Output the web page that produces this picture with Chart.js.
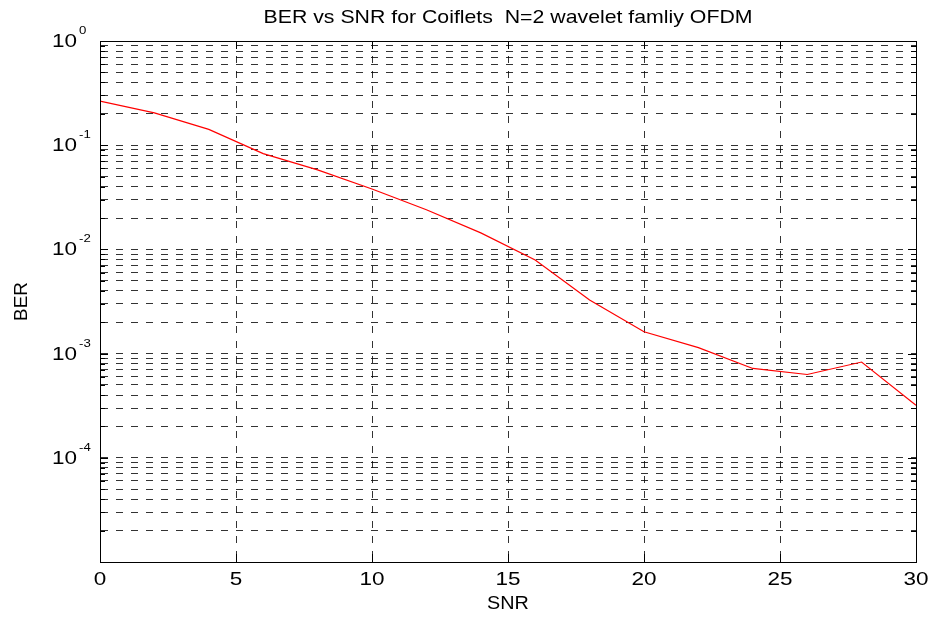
<!DOCTYPE html>
<html>
<head>
<meta charset="utf-8">
<script src="https://cdn.jsdelivr.net/npm/chart.js@4.4.1/dist/chart.umd.min.js"></script>
<style>
  html, body { margin: 0; padding: 0; background: #fff; }
</style>
</head>
<body>
<canvas id="chart" width="933" height="618"></canvas>
<script>
// values
const snr = [0, 2, 4, 6, 8, 10, 12, 14, 16, 18, 20, 22, 24, 26, 28, 30];
const ber = [0.265, 0.204, 0.142, 0.083, 0.058, 0.038, 0.024, 0.0144, 0.0079, 0.00327,
             0.00162, 0.00114, 0.00072, 0.00063, 0.00083, 0.00032];
const xTicks = [0, 5, 10, 15, 20, 25, 30];
const yDecades = [1e0, 1e-1, 1e-2, 1e-3, 1e-4];
const yExponents = ['0', '-1', '-2', '-3', '-4'];
const chartTitle = 'BER vs SNR for Coiflets  N=2 wavelet famliy OFDM';
const xTitle = 'SNR';
const yTitle = 'BER';

const FONT = '"Liberation Sans", Arial, Helvetica, sans-serif';

function stretchedText(ctx, text, x, y, size, align, sx) {
  ctx.save();
  ctx.translate(x, y);
  ctx.scale(sx, 1);
  ctx.font = size + 'px ' + FONT;
  ctx.fillStyle = '#000';
  ctx.textAlign = align;
  ctx.textBaseline = 'alphabetic';
  ctx.fillText(text, 0, 0);
  ctx.restore();
}

// box, inward ticks and all text (matlab style)
const matlabFrame = {
  id: 'matlabFrame',
  afterDraw(chart) {
    const ctx = chart.ctx;
    const area = chart.chartArea;
    const xs = chart.scales.x;
    const ys = chart.scales.y;

    ctx.save();
    ctx.strokeStyle = '#000';
    ctx.lineWidth = 1;
    ctx.beginPath();
    xs.ticks.forEach(t => {
      const px = Math.round(xs.getPixelForValue(t.value)) + 0.5;
      ctx.moveTo(px, area.bottom); ctx.lineTo(px, area.bottom - 8);
      ctx.moveTo(px, area.top); ctx.lineTo(px, area.top + 8);
    });
    ys.ticks.forEach(t => {
      const py = Math.round(ys.getPixelForValue(t.value)) + 0.5;
      const major = yDecades.some(d => Math.abs(Math.log10(d) - Math.log10(t.value)) < 1e-9);
      const len = major ? 8 : 5;
      ctx.moveTo(area.left, py); ctx.lineTo(area.left + len, py);
      ctx.moveTo(area.right, py); ctx.lineTo(area.right - len, py);
    });
    ctx.stroke();
    ctx.strokeRect(Math.round(area.left) + 0.5, Math.round(area.top) + 0.5,
                   Math.round(area.right - area.left), Math.round(area.bottom - area.top));
    ctx.restore();

    // x tick labels
    xTicks.forEach(v => {
      stretchedText(ctx, String(v), xs.getPixelForValue(v), area.bottom + 23, 18, 'center', 1.25);
    });
    // y tick labels 10^n
    yDecades.forEach((v, i) => {
      const py = ys.getPixelForValue(v);
      stretchedText(ctx, '10', area.left - 23, py + 6, 18, 'right', 1.25);
      stretchedText(ctx, yExponents[i], area.left - 21, py - 7, 11, 'left', 1.2);
    });

    // titles
    stretchedText(ctx, chartTitle, (area.left + area.right) / 2, 23, 19, 'center', 1.12);
    stretchedText(ctx, xTitle, (area.left + area.right) / 2, area.bottom + 47, 18, 'center', 1.1);
    ctx.save();
    ctx.translate(27, (area.top + area.bottom) / 2);
    ctx.rotate(-Math.PI / 2);
    stretchedText(ctx, yTitle, 0, 0, 18, 'center', 1.05);
    ctx.restore();
  }
};

const ctx = document.querySelector('#chart').getContext('2d');
const chart = new Chart(ctx, {
  type: 'line',
  data: {
    datasets: [{
      label: yTitle,
      data: snr.map((s, i) => ({ x: s, y: ber[i] })),
      borderColor: '#ff0000',
      borderWidth: 1.2,
      pointRadius: 0,
      tension: 0,
      fill: false
    }]
  },
  options: {
    responsive: false,
    animation: false,
    layout: { padding: { left: 0, right: 17, top: 41, bottom: 0 } },
    plugins: {
      legend: { display: false },
      tooltip: { enabled: false },
      title: { display: false }
    },
    scales: {
      x: {
        type: 'linear',
        min: 0,
        max: 30,
        afterBuildTicks: scale => { scale.ticks = xTicks.map(v => ({ value: v })); },
        afterFit: scale => { scale.height = 56; },
        ticks: { display: false },
        grid: { color: 'rgba(0,0,0,0.8)', lineWidth: 1, drawTicks: false },
        border: { color: '#000', dash: [7, 8] }
      },
      y: {
        type: 'logarithmic',
        min: 1e-5,
        max: 1,
        afterBuildTicks: scale => {
          const t = [];
          for (let e = -5; e < 0; e++) {
            for (let m = 1; m < 10; m++) t.push({ value: m * Math.pow(10, e) });
          }
          t.push({ value: 1 });
          scale.ticks = t;
        },
        afterFit: scale => { scale.width = 100; },
        ticks: { display: false },
        grid: { color: 'rgba(0,0,0,0.8)', lineWidth: 1, drawTicks: false },
        border: { color: '#000', dash: [7, 8] }
      }
    }
  },
  plugins: [matlabFrame]
});
</script>
</body>
</html>
